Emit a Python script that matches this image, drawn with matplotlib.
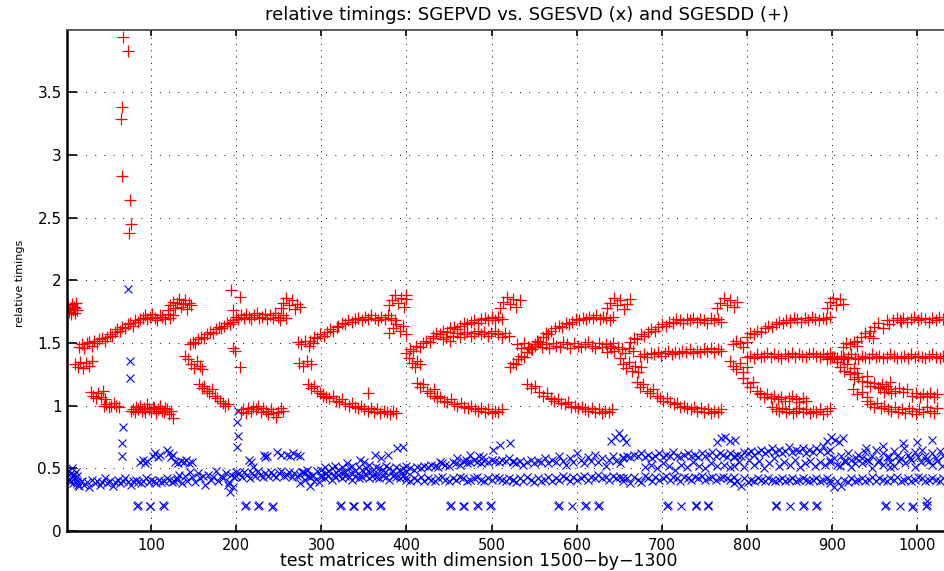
import matplotlib.pyplot as plt
from matplotlib.ticker import FormatStrFormatter
import numpy as np

# relative timings, in hundredths
# every band is (first matrix, last matrix, values along the band)

# SGEPVD / SGESDD  (+)
sdd_g1 = [
    (1, 13, [177, 180, 175, 178, 173, 181, 176, 179, 174, 178, 182, 176]),
    (15, 90, [147, 149, 146, 150, 151, 148, 152, 150, 153, 154, 152, 155, 157,
              156, 159, 161, 160, 163, 162, 165, 166, 164, 168, 167, 169, 170]),
    (92, 125, [172, 169, 171, 173, 170, 168, 172, 171, 169, 173, 170, 172]),
    (120, 147, [176, 180, 183, 178, 182, 185, 179, 181, 184, 177, 182, 180]),
    (10, 30, [133, 131, 135, 130, 134, 132, 136]),
    (29, 46, [111, 108, 106, 110, 107, 112, 105]),
    (44, 62, [100, 101, 99, 100, 102, 100, 99]),
    (76, 125, [96, 97, 95, 99, 97, 100, 96, 98, 95, 101, 97, 96, 99, 98, 94, 97,
               100, 96, 95, 98, 97, 93, 96, 90]),
]
sdd_g2 = [
    (140, 160, [140, 137, 133, 130, 136, 132, 129]),
    (156, 190, [117, 114, 116, 112, 110, 113, 108, 106, 104, 102, 100, 101]),
    (145, 196, [149, 151, 150, 153, 155, 154, 157, 159, 158, 161, 163, 162, 164,
                166, 165, 167]),
    (196, 258, [168, 171, 169, 172, 170, 173, 171, 169, 172, 174, 170, 171, 173,
                169, 172, 170, 174, 171, 168, 172, 170]),
    (252, 275, [178, 182, 186, 180, 184, 177, 181, 179]),
    (205, 255, [95, 97, 94, 98, 96, 99, 97, 100, 95, 98, 96, 93, 97, 94, 91, 95,
                98, 96]),
]
sdd_g3 = [
    (272, 290, [151, 149, 152, 148, 150]),
    (274, 288, [134, 132, 136, 133]),
    (284, 302, [117, 114, 116, 112, 110, 108]),
    (302, 388, [109, 107, 106, 108, 104, 103, 105, 101, 100, 102, 99, 98, 100,
                97, 96, 98, 95, 97, 94, 96, 95, 93, 96, 94]),
    (287, 318, [152, 155, 154, 157, 156, 159, 161, 160, 163]),
    (320, 386, [164, 166, 165, 168, 167, 169, 170, 168, 171, 169, 172, 170, 168,
                171, 169, 172, 170, 168]),
    (380, 400, [180, 184, 188, 182, 186, 179, 185]),
    (380, 400, [158, 162, 165, 160, 164, 157]),
]
sdd_g4 = [
    (403, 416, [138, 134, 131, 136, 133]),
    (412, 436, [118, 115, 117, 112, 110, 113, 108]),
    (432, 512, [108, 106, 107, 104, 103, 105, 101, 100, 102, 99, 98, 100, 97, 96,
                98, 95, 97, 94, 96, 95, 97]),
    (400, 431, [142, 145, 144, 148, 147, 150, 152, 151, 154]),
    (431, 500, [156, 158, 157, 160, 159, 162, 163, 161, 164, 166, 165, 167, 168,
                166, 169, 170, 168, 171]),
    (500, 512, [170, 168, 171, 169]),
    (443, 520, [153, 155, 152, 156, 158, 155, 157, 159, 156, 158, 160, 157, 159,
                156, 158, 160, 157, 155, 158, 156]),
    (510, 533, [178, 183, 187, 181, 185, 179, 184]),
]
sdd_g5 = [
    (522, 570, [131, 134, 133, 137, 140, 139, 143, 146, 145, 149, 152, 151, 155,
                158, 157, 160]),
    (575, 643, [162, 164, 163, 166, 165, 167, 169, 168, 170, 169, 171, 170, 172,
                169, 171, 170, 168, 171]),
    (530, 643, [149, 146, 150, 147, 145, 148, 151, 147, 149, 146, 150, 148, 147,
                151, 149, 146, 150, 148, 147, 149, 151, 148, 146, 150, 147, 149,
                148, 150]),
    (542, 570, [117, 114, 116, 111, 108, 110, 105]),
    (570, 642, [106, 104, 105, 102, 101, 103, 99, 100, 98, 99, 97, 96, 98, 95, 97,
                94, 96, 95, 97]),
    (636, 663, [178, 182, 186, 180, 184, 177, 181, 185]),
    (636, 666, [143, 146, 144, 147, 145, 142, 146, 144]),
]
sdd_g6 = [
    (651, 676, [138, 133, 130, 135, 128, 132, 127, 131]),
    (663, 713, [151, 154, 153, 157, 156, 159, 161, 160, 163, 165, 164, 167, 166]),
    (713, 770, [167, 169, 168, 166, 169, 168, 170, 167, 169, 168, 166, 170, 168,
                169, 167]),
    (675, 770, [140, 141, 139, 142, 141, 143, 140, 142, 144, 141, 143, 142, 144,
                143, 145, 142, 144, 143, 145, 144, 146, 143, 145, 144]),
    (671, 694, [119, 115, 117, 112, 110, 113, 108]),
    (694, 770, [108, 106, 104, 106, 103, 101, 102, 99, 100, 98, 97, 99, 96, 98,
                95, 97, 94, 96, 95, 97]),
    (765, 789, [178, 182, 186, 180, 184, 179, 183]),
    (784, 800, [149, 152, 150, 147, 151]),
]
sdd_g7 = [
    (780, 800, [136, 132, 129, 134, 127, 131]),
    (800, 898, [139, 140, 138, 141, 139, 140, 142, 139, 141, 140, 138, 141, 140,
                142, 139, 141, 140, 139, 141, 142, 140, 139, 141, 140, 142]),
    (800, 851, [155, 158, 157, 160, 159, 162, 164, 163, 165, 167, 166, 168, 167]),
    (851, 898, [168, 170, 169, 167, 170, 168, 171, 169, 168, 170, 169, 171]),
    (796, 816, [122, 118, 115, 119, 112, 109]),
    (816, 870, [110, 107, 109, 106, 108, 105, 107, 104, 106, 108, 105, 103, 106,
                104]),
    (830, 898, [99, 97, 96, 98, 95, 97, 94, 96, 98, 95, 97, 94, 96, 95, 97, 93,
                96, 98]),
    (894, 913, [178, 183, 186, 180, 185, 181]),
    (894, 913, [137, 139, 138, 137]),
    (906, 930, [135, 131, 128, 133, 127, 130, 126]),
]
sdd_g8 = [
    (898, 1031, [138, 139, 137, 140, 138, 139, 141, 138, 137, 140, 139, 138, 141,
                 139, 140, 138, 139, 141, 140, 138, 139, 140, 138, 141, 139, 140,
                 139, 138, 140, 141, 139, 138, 140]),
    (913, 930, [147, 150, 149, 151, 148]),
    (930, 949, [152, 155, 158, 156, 154]),
    (945, 965, [160, 163, 166, 162, 168]),
    (967, 981, [165, 168, 170, 167]),
    (980, 1031, [168, 170, 167, 169, 171, 168, 170, 169, 167, 170, 168, 171, 169]),
    (921, 941, [125, 121, 123, 120, 124]),
    (925, 941, [113, 109, 111, 107]),
    (941, 968, [119, 116, 118, 115, 117, 116, 119]),
    (957, 988, [114, 111, 113, 110, 112, 114, 111, 113]),
    (995, 1024, [108, 110, 107, 109, 108, 110, 107, 109]),
    (941, 1024, [104, 101, 99, 102, 98, 100, 97, 96, 99, 95, 97, 94, 98, 96, 93,
                 97, 95, 99, 96, 94, 98]),
]
# single SGESDD points away from the bands
sdd_pts_x = [67, 73, 66, 64, 66, 75, 76, 74, 194, 204, 196, 196, 198, 204, 355, 400]
sdd_pts_y = [394, 383, 338, 329, 283, 264, 245, 238, 192, 187, 176, 146, 144, 131, 110, 188]

# SGEPVD / SGESVD  (x)
svd_g1 = [
    (1, 14, [44, 48, 41, 39, 46, 43, 50, 38, 45, 42, 47, 40, 44, 37]),
    (12, 130, [38, 36, 40, 37, 39, 35, 41, 38, 40, 37, 39, 42, 38, 40, 36, 39, 41,
               38, 40, 42, 39, 37, 40, 41, 39, 38, 40, 42, 39, 41, 40, 38, 41, 39,
               40, 42, 41, 39, 40, 41]),
    (87, 95, [55, 57, 54, 56]),
    (102, 110, [60, 62, 59, 61]),
    (118, 125, [65, 62, 59, 61]),
    (128, 148, [55, 54, 56, 55, 57, 54, 55]),
    (130, 200, [42, 45, 38, 44, 40, 47, 43, 39, 46, 42, 44, 37, 45, 41, 43, 48, 40,
                44, 42, 46, 39, 45, 43, 47]),
]
svd_g2 = [
    (215, 220, [57, 55, 51]),
    (232, 236, [61, 59, 60]),
    (248, 252, [63, 61]),
    (259, 275, [61, 60, 62, 61, 60]),
    (200, 290, [44, 46, 43, 47, 45, 42, 46, 44, 48, 45, 43, 46, 44, 47, 45, 43, 46,
                48, 44, 45, 47, 43, 46, 44, 45, 47, 46, 44, 43, 45]),
    (275, 300, [38, 47, 41, 49, 36, 44, 40, 48, 39, 45]),
]
svd_g3 = [
    (300, 400, [49, 51, 48, 50, 52, 49, 51, 47, 50, 52, 48, 51, 49, 50, 53, 48, 51,
                50, 49, 52, 50, 48, 51, 49, 50, 52]),
    (300, 400, [43, 42, 44, 41, 43, 45, 42, 44, 43, 41, 44, 42, 43, 45, 42, 44, 43,
                42, 44, 43, 41, 44, 43, 42, 44, 43]),
    (305, 395, [46, 45, 47, 46, 45, 48, 46, 47, 45, 46]),
]
svd_g4 = [
    (400, 525, [48, 50, 49, 51, 50, 52, 51, 53, 52, 51, 54, 53, 52, 55, 54, 53, 56,
                54, 55, 57, 55, 54, 56, 55, 57, 56, 55, 57, 56, 58, 56]),
    (400, 525, [41, 40, 42, 41, 43, 40, 42, 41, 40, 42, 43, 41, 40, 42, 41, 43, 42,
                40, 41, 42, 43, 41, 40, 42, 41, 43, 42, 41, 40, 42, 41]),
]
svd_g5 = [
    (525, 655, [55, 54, 56, 53, 55, 57, 54, 56, 55, 58, 54, 57, 55, 60, 56, 53, 58,
                55, 62, 57, 54, 59, 56, 61, 55, 58, 52, 57, 60, 56, 54, 59]),
    (525, 655, [41, 39, 42, 40, 43, 41, 39, 42, 40, 41, 43, 40, 42, 41, 44, 42, 40,
                43, 41, 42, 44, 41, 43, 42, 45, 42, 43, 41, 44, 42, 43, 42]),
]
svd_g6 = [
    (655, 785, [58, 60, 59, 61, 60, 62, 59, 61, 58, 60, 62, 59, 61, 60, 63, 60, 59,
                61, 62, 60, 61, 59, 62, 60, 61, 63, 60, 62, 61, 59, 62, 60]),
    (680, 780, [51, 53, 50, 54, 52, 49, 53, 51, 55, 52, 50, 54, 52, 53, 51]),
    (655, 785, [40, 42, 38, 43, 41, 39, 44, 42, 40, 43, 41, 42, 44, 41, 43, 42, 40,
                43, 42, 41, 43, 42, 44, 41, 42, 43, 41, 42, 43, 42, 41, 43]),
]
svd_g7 = [
    (785, 898, [59, 61, 60, 63, 62, 64, 61, 63, 65, 62, 64, 66, 63, 65, 62, 64, 67,
                63, 65, 64, 66, 62, 65, 63, 66, 64, 68, 63, 65]),
    (785, 898, [52, 55, 51, 57, 53, 56, 50, 54, 58, 52, 55, 53, 57, 51, 54, 56, 52,
                55, 53, 57]),
    (785, 898, [38, 40, 36, 42, 39, 41, 40, 42, 41, 40, 42, 41, 40, 41, 42, 40, 41,
                42, 40, 41, 42, 41, 40, 41, 42, 40, 41, 42, 41]),
]
svd_g8 = [
    (898, 1031, [55, 58, 53, 60, 56, 62, 57, 54, 61, 58, 63, 56, 60, 65, 57, 62,
                 59, 55, 64, 60, 58, 66, 61, 57, 63, 59, 65, 60, 56, 62, 58, 64, 60]),
    (910, 1030, [52, 56, 51, 58, 54, 57, 50, 55, 53, 59, 52, 56, 54, 58, 51, 55, 57,
                 53, 56, 52]),
    (898, 1031, [38, 35, 40, 36, 41, 39, 42, 40, 41, 42, 40, 41, 43, 40, 42, 41,
                 40, 42, 41, 43, 40, 41, 42, 40, 41, 43, 42, 40, 41, 42, 41, 40, 42]),
]
# single SGESVD points: spikes, dips, small clusters and the 0.2 groups
svd_pts_x = [73, 75, 75, 67, 65, 65, 193, 196, 190, 202, 201, 202, 201,
             330, 345, 363, 378, 389, 396, 350, 370,
             440, 459, 475, 490, 502, 510, 522, 470, 485,
             640, 645, 650, 655, 658, 765, 770, 775, 780, 786,
             894, 899, 904, 909, 913, 969, 984, 1000, 1018, 960, 940,
             83, 84, 98, 99, 114, 115, 210, 211, 226, 227, 242, 243,
             322, 323, 337, 338, 353, 354, 369, 370,
             451, 452, 467, 468, 483, 484, 498, 499,
             578, 579, 595, 610, 611, 625, 626,
             706, 707, 723, 740, 741, 754, 755,
             834, 835, 851, 866, 867, 882, 883,
             963, 964, 980, 995, 996, 1011, 1012, 1012]
svd_pts_y = [193, 136, 122, 83, 70, 60, 31, 35, 37, 96, 87, 76, 67,
             54, 57, 61, 61, 66, 67, 55, 58,
             55, 58, 61, 59, 65, 69, 70, 57, 60,
             72, 75, 78, 74, 71, 71, 74, 75, 72, 73,
             72, 75, 73, 71, 74, 51, 70, 71, 73, 68, 66,
             20, 21, 20, 20, 21, 20, 20, 21, 20, 21, 19, 20,
             20, 21, 20, 20, 21, 20, 20, 21,
             20, 21, 20, 20, 21, 20, 20, 21,
             20, 21, 20, 20, 21, 20, 21,
             20, 21, 20, 20, 21, 20, 21,
             20, 21, 20, 20, 21, 20, 21,
             20, 21, 20, 19, 20, 20, 21, 24]

yticks = [0, 0.5, 1, 1.5, 2, 2.5, 3, 3.5]
xticks = [100, 200, 300, 400, 500, 600, 700, 800, 900, 1000]


def collect(groups, px, py):
    xs, ys = [], []
    for g in groups:
        for start, stop, vals in g:
            xs.extend(np.linspace(start, stop, len(vals)))
            ys.extend(vals)
    xs.extend(px)
    ys.extend(py)
    return np.array(xs), np.array(ys) / 100.0


sdd_x, sdd_y = collect([sdd_g1, sdd_g2, sdd_g3, sdd_g4, sdd_g5, sdd_g6, sdd_g7, sdd_g8],
                       sdd_pts_x, sdd_pts_y)
svd_x, svd_y = collect([svd_g1, svd_g2, svd_g3, svd_g4, svd_g5, svd_g6, svd_g7, svd_g8],
                       svd_pts_x, svd_pts_y)

plt.rcParams['font.family'] = 'DejaVu Sans'
fig = plt.figure(figsize=(9.44, 5.71), dpi=100)
ax = fig.add_axes([67.15 / 944, 40 / 571, 883.6 / 944, 501.2 / 571])

ax.plot(svd_x, svd_y, 'x', color='b', ms=5.5, mew=0.8, linestyle='none')
ax.plot(sdd_x, sdd_y, '+', color='r', ms=8, mew=0.9, linestyle='none')

ax.set_xlim(1, 1040)
ax.set_ylim(0, 4)
ax.set_xticks(xticks)
ax.set_yticks(yticks)
ax.yaxis.set_major_formatter(FormatStrFormatter('%g'))

ax.xaxis.grid(True, color='k', lw=0.7, linestyle=(0, (1, 5.5)))
ax.yaxis.grid(True, color='k', lw=0.7, linestyle=(0, (1, 8.5)))
ax.set_axisbelow(True)

ax.tick_params(axis='x', direction='in', top=True, length=4.5, width=1.2,
               labelsize=10.5, pad=5)
ax.tick_params(axis='y', direction='in', right=False, length=7, width=1.2,
               labelsize=11, pad=4)
for side in ['left', 'bottom']:
    ax.spines[side].set_linewidth(1.8)
ax.spines['top'].set_linewidth(1.3)
ax.spines['top'].set_color('0.3')
ax.spines['right'].set_visible(False)

fig.text(527 / 944, 1 - 15 / 571,
         'relative timings: SGEPVD vs. SGESVD (x) and SGESDD (+)',
         ha='center', va='center', fontsize=13)
fig.text(479 / 944, 1 - 561 / 571,
         'test matrices with dimension 1500\u2212by\u22121300',
         ha='center', va='center', fontsize=12.5)
fig.text(20 / 944, 1 - 283 / 571, 'relative timings',
         ha='center', va='center', rotation=90, fontsize=8)

fig.savefig('out.png', dpi=100)
